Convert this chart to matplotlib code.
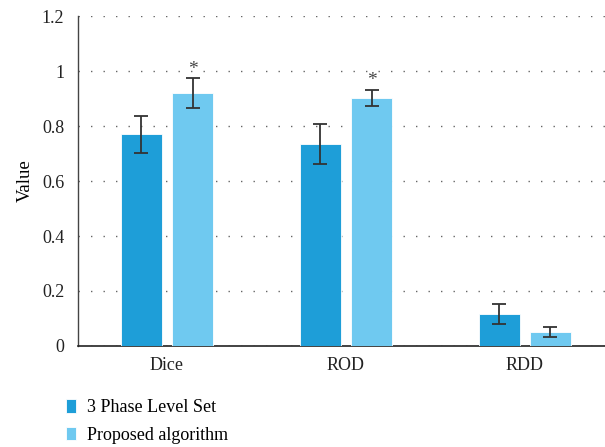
import numpy as np
import matplotlib
matplotlib.use("Agg")
import matplotlib.pyplot as plt

categories = ["Dice", "ROD", "RDD"]
series = ["3 Phase Level Set", "Proposed algorithm"]
level_set = [0.770, 0.735, 0.116]
level_set_err = [0.068, 0.073, 0.036]
proposed = [0.920, 0.902, 0.051]
proposed_err = [0.053, 0.029, 0.018]
significant = [True, True, False]

COLORS = ["#1E9ED8", "#6FC9F0"]

plt.rcParams.update({
    "font.family": ["Liberation Serif", "DejaVu Serif"],
    "font.size": 13,
})

fig = plt.figure(figsize=(6.05, 4.47), dpi=100)
ax = fig.add_axes([0.129, 0.226, 0.871, 0.738])

x = np.arange(len(categories))
w = 0.229
off = 0.1425
ekw = dict(ecolor="#333333", elinewidth=1.3, capsize=5, capthick=1.3)

ax.bar(x - off, level_set, w, yerr=level_set_err, color=COLORS[0],
       label=series[0], zorder=3, error_kw=ekw, edgecolor="white", linewidth=0.6)
ax.bar(x + off, proposed, w, yerr=proposed_err, color=COLORS[1],
       label=series[1], zorder=3, error_kw=ekw, edgecolor="white", linewidth=0.6)

for i, s in enumerate(significant):
    if s:
        ax.text(x[i] + off, proposed[i] + proposed_err[i] + 0.003, "*",
                ha="center", va="bottom", fontsize=14, color="#444444")

ax.set_xlim(-0.497, 2.447)
ax.set_ylim(0, 1.2)
ax.set_yticks([0, 0.2, 0.4, 0.6, 0.8, 1.0, 1.2])
ax.set_yticklabels(["0", "0.2", "0.4", "0.6", "0.8", "1", "1.2"])
ax.set_xticks(x)
ax.set_xticklabels(categories)
ax.tick_params(axis="both", length=0, colors="#222222")
ax.tick_params(axis="y", pad=10)
ax.tick_params(axis="x", pad=8)
ax.yaxis.grid(True, linestyle=(0, (1, 8)), color="#666666", linewidth=1.0, zorder=0)
ax.set_axisbelow(True)
for s in ["top", "right"]:
    ax.spines[s].set_visible(False)
ax.spines["left"].set_color("#444444")
ax.spines["bottom"].set_color("#222222")
ax.spines["left"].set_linewidth(1.0)
ax.spines["bottom"].set_linewidth(1.2)
ax.set_ylabel("Value", labelpad=6, fontsize=13.5)

fig.legend(loc="lower left", bbox_to_anchor=(0.082, -0.03), frameon=False,
           handlelength=0.55, handleheight=0.75, handletextpad=0.6,
           labelspacing=0.6, fontsize=13)

fig.savefig("out.png", dpi=100)
